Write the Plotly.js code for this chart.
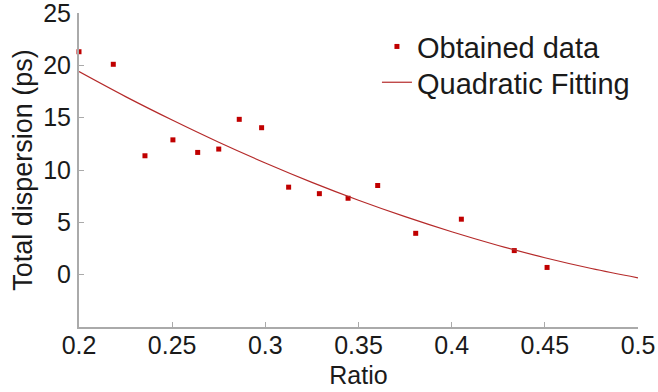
<!DOCTYPE html>
<html><head><meta charset="utf-8">
<script src="https://cdn.plot.ly/plotly-3.0.1.min.js"></script>
<style>body{margin:0;background:#fff}#chart{width:658px;height:392px}</style>
</head><body><div id="chart"></div>
<script>
const ratio = [0.2, 0.2184, 0.2354, 0.2504, 0.2637, 0.275, 0.286, 0.298, 0.3125, 0.329, 0.3444, 0.3603, 0.3807, 0.4052, 0.4336, 0.4512];
const dispersion = [21.3, 20.1, 11.36, 12.88, 11.68, 12.0, 14.84, 14.04, 8.36, 7.74, 7.3, 8.52, 3.95, 5.3, 2.3, 0.69];
const fitRatio = [0.2, 0.225, 0.25, 0.275, 0.3, 0.325, 0.35, 0.375, 0.4, 0.425, 0.45, 0.475, 0.5];
const fitDispersion = [19.4, 17.01, 14.77, 12.65, 10.67, 8.82, 7.11, 5.54, 4.1, 2.79, 1.62, 0.59, -0.3];
const xTicks = [0.2, 0.25, 0.3, 0.35, 0.4, 0.45, 0.5];
const xTickText = ['0.2', '0.25', '0.3', '0.35', '0.4', '0.45', '0.5'];
const yTicks = [0, 5, 10, 15, 20, 25];

const font = 'Liberation Sans, Arial, sans-serif';
const legendFont = {size: 29, family: font, color: '#1a1a1a'};
const data = [
  {x: ratio, y: dispersion, type: 'scatter', mode: 'markers', name: 'Obtained data', legend: 'legend',
   marker: {symbol: 'square', size: 5, color: '#c00000'}, cliponaxis: false},
  {x: fitRatio, y: fitDispersion, type: 'scatter', mode: 'lines', name: 'Quadratic Fitting', legend: 'legend2',
   line: {color: '#b52a2a', width: 1.2, shape: 'spline'}}
];
const layout = {
  width: 658, height: 392,
  margin: {l: 79, r: 20, t: 13, b: 65},
  paper_bgcolor: '#fff', plot_bgcolor: '#fff',
  font: {family: font, color: '#1a1a1a', size: 25},
  showlegend: true,
  legend: {x: 0.533, y: 0.893, xanchor: 'left', yanchor: 'middle', bgcolor: 'rgba(0,0,0,0)', font: legendFont},
  legend2: {x: 0.533, y: 0.779, xanchor: 'left', yanchor: 'middle', bgcolor: 'rgba(0,0,0,0)', font: legendFont},
  xaxis: {range: [0.2, 0.5], tickvals: xTicks, ticktext: xTickText, ticks: 'inside', ticklen: 5,
          tickcolor: '#aaa', showline: true, linecolor: '#aaa', linewidth: 2, showgrid: false,
          zeroline: false, tickfont: {size: 25}, ticklabeloverflow: 'allow',
          title: {text: 'Ratio', font: {size: 25}, standoff: 0}},
  yaxis: {range: [-5, 25], tickvals: yTicks, ticks: 'inside', ticklen: 5,
          tickcolor: '#aaa', showline: true, linecolor: '#aaa', linewidth: 2, showgrid: false,
          zeroline: false, tickfont: {size: 25}, ticklabeloverflow: 'allow', ticklabelstandoff: 1,
          title: {text: 'Total dispersion (ps)', font: {size: 27}, standoff: 3}}
};
Plotly.newPlot('chart', data, layout, {displayModeBar: false, staticPlot: true}).then(function () {
  document.querySelectorAll('#chart .xtick text').forEach(function (t) {
    t.setAttribute('y', parseFloat(t.getAttribute('y')) - 5);
  });
  document.querySelectorAll('#chart .g-xtitle text').forEach(function (t) {
    t.setAttribute('y', parseFloat(t.getAttribute('y')) - 3);
  });
});
</script></body></html>
